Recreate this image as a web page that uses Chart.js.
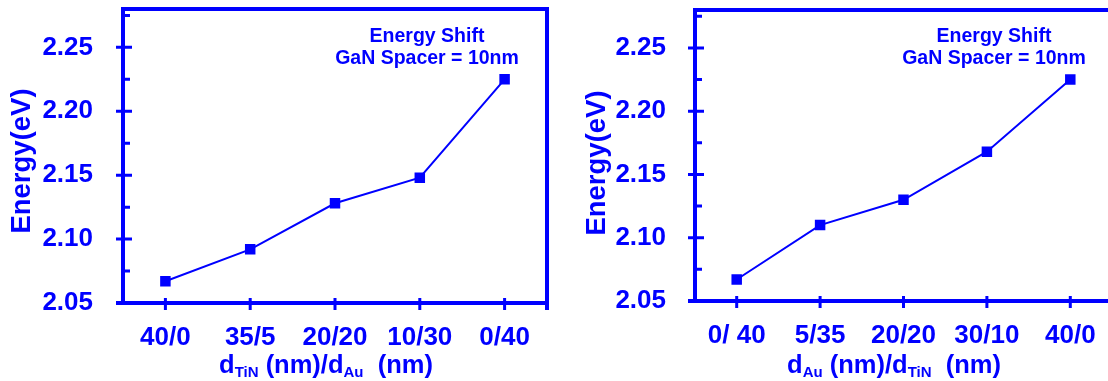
<!DOCTYPE html>
<html>
<head>
<meta charset="utf-8">
<title>Energy shift vs layer thickness</title>
<script src="https://cdn.jsdelivr.net/npm/chart.js@4.4.0/dist/chart.umd.min.js"></script>
<style>
  html, body { margin: 0; padding: 0; background: #fff; overflow: hidden; }
  #wrap { position: relative; width: 1108px; height: 381px; overflow: hidden; }
  canvas { position: absolute; top: 0; }
  #chartA { left: 0; }
  #chartB { left: 560px; }
</style>
</head>
<body>
<div id="wrap">
  <canvas id="chartA" width="560" height="381"></canvas>
  <canvas id="chartB" width="560" height="381"></canvas>
</div>
<script>
// values
const tinAuLabels = ["40/0", "35/5", "20/20", "10/30", "0/40"];
const tinAuEnergy = [2.067, 2.092, 2.128, 2.148, 2.225];

const auTinLabels = ["0/ 40", "5/35", "20/20", "30/10", "40/0"];
const auTinEnergy = [2.067, 2.110, 2.130, 2.168, 2.225];

const yMajorTicks = [2.05, 2.10, 2.15, 2.20, 2.25];
const yMinorTicks = [2.075, 2.125, 2.175, 2.225, 2.275];
const yMin = 2.05;
const yMax = 2.28;

const noteLines = ["Energy Shift", "GaN Spacer = 10nm"];
const yTitle = "Energy(eV)";
// [text, isSubscript]
const xTitleA = [["d", 0], ["TiN", 1], [" (nm)/d", 0], ["Au", 1], ["  (nm)", 0]];
const xTitleB = [["d", 0], ["Au", 1], [" (nm)/d", 0], ["TiN", 1], ["  (nm)", 0]];

const BLUE = "#0000ff";
const FONT = "'Liberation Sans', Arial, sans-serif";

// box, crossing ticks and the extra texts
const framePlugin = {
  id: "frame",
  afterDraw(chart, args, opts) {
    const ctx = chart.ctx;
    const a = chart.chartArea;
    const xs = chart.scales.x, ys = chart.scales.y;
    ctx.save();
    ctx.strokeStyle = BLUE;
    ctx.fillStyle = BLUE;

    ctx.lineWidth = 4;
    ctx.beginPath();
    ctx.moveTo(a.left - 7, a.bottom); ctx.lineTo(a.right + 2, a.bottom);
    ctx.moveTo(a.left, a.bottom); ctx.lineTo(a.left, a.top - 2);
    ctx.moveTo(a.left - 2, a.top); ctx.lineTo(a.right + 2, a.top);
    ctx.moveTo(a.right, a.top - 2); ctx.lineTo(a.right, a.bottom + 7);
    ctx.stroke();

    ctx.lineWidth = 3;
    ctx.beginPath();
    yMajorTicks.forEach(v => {
      const py = ys.getPixelForValue(v);
      ctx.moveTo(a.left - 7, py); ctx.lineTo(a.left + 9, py);
    });
    yMinorTicks.forEach(v => {
      const py = ys.getPixelForValue(v);
      ctx.moveTo(a.left, py); ctx.lineTo(a.left + 7, py);
    });
    xs.ticks.forEach((t, i) => {
      const px = xs.getPixelForTick(i);
      ctx.moveTo(px, a.bottom - 5); ctx.lineTo(px, a.bottom + 7);
    });
    ctx.stroke();

    // note in the corner
    ctx.font = "bold 19.5px " + FONT;
    ctx.textAlign = "center";
    ctx.textBaseline = "alphabetic";
    ctx.fillText(noteLines[0], opts.noteX, 42);
    ctx.fillText(noteLines[1], opts.noteX, 64);

    // y title
    ctx.save();
    ctx.translate(opts.yTitleX, opts.yTitleY);
    ctx.rotate(-Math.PI / 2);
    ctx.font = "bold 27.5px " + FONT;
    ctx.textBaseline = "middle";
    ctx.fillText(yTitle, 0, 0);
    ctx.restore();

    // x title with subscripts
    const big = "bold 25.5px " + FONT, small = "bold 15px " + FONT;
    let total = 0;
    opts.xTitle.forEach(p => { ctx.font = p[1] ? small : big; total += ctx.measureText(p[0]).width; });
    let px = opts.xTitleX - total / 2;
    ctx.textAlign = "left";
    ctx.textBaseline = "alphabetic";
    opts.xTitle.forEach(p => {
      ctx.font = p[1] ? small : big;
      ctx.fillText(p[0], px, p[1] ? 377 : 373);
      px += ctx.measureText(p[0]).width;
    });
    ctx.restore();
  }
};

function makeChart(id, labels, values, cfg) {
  const tickFont = { family: FONT, size: 26, weight: "bold" };
  return new Chart(document.getElementById(id), {
    type: "line",
    data: {
      labels: labels,
      datasets: [{
        data: values,
        borderColor: BLUE,
        backgroundColor: BLUE,
        borderWidth: 2,
        pointStyle: "rect",
        pointRadius: 6,
        pointHoverRadius: 6,
        tension: 0
      }]
    },
    options: {
      responsive: false,
      animation: false,
      events: [],
      layout: { padding: { top: cfg.top, right: 560 - cfg.right, left: 0, bottom: 0 } },
      plugins: { legend: { display: false }, tooltip: { enabled: false }, frame: cfg },
      scales: {
        x: {
          offset: true,
          grid: { display: false, drawTicks: false },
          border: { display: false },
          ticks: { color: BLUE, font: tickFont, padding: 19, maxRotation: 0, autoSkip: false },
          afterFit: s => { s.height = 381 - cfg.bottom; s.paddingLeft = 0; s.paddingRight = 0; }
        },
        y: {
          min: yMin,
          max: yMax,
          grid: { display: false, drawTicks: false },
          border: { display: false },
          afterBuildTicks: s => { s.ticks = yMajorTicks.map(v => ({ value: v })); },
          ticks: { color: BLUE, font: tickFont, padding: cfg.yPad, callback: v => v.toFixed(2) },
          afterFit: s => { s.width = cfg.left; s.paddingTop = 0; s.paddingBottom = 0; }
        }
      }
    },
    plugins: [framePlugin]
  });
}

makeChart("chartA", tinAuLabels, tinAuEnergy, {
  left: 123, top: 9, right: 547, bottom: 303, yPad: 30,
  noteX: 427, yTitleX: 22, yTitleY: 161, xTitleX: 326, xTitle: xTitleA
});
makeChart("chartB", auTinLabels, auTinEnergy, {
  left: 135, top: 10, right: 553, bottom: 301, yPad: 29,
  noteX: 434, yTitleX: 37, yTitleY: 163, xTitleX: 334, xTitle: xTitleB
});
</script>
</body>
</html>
